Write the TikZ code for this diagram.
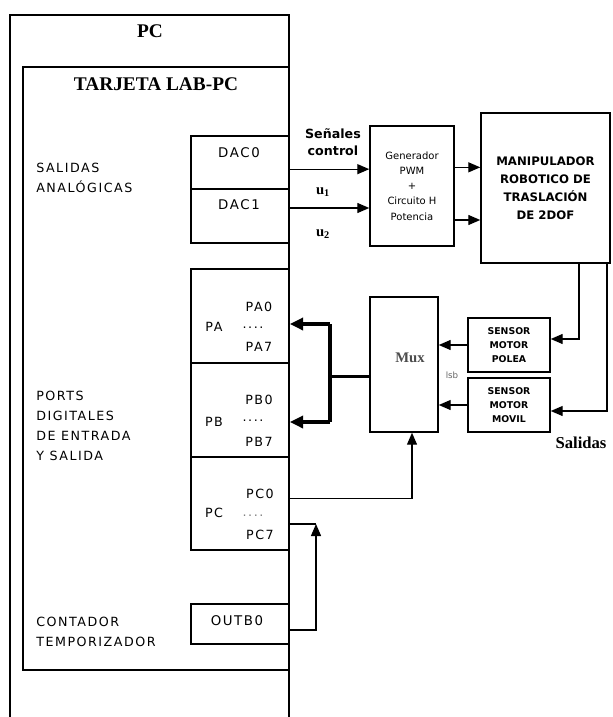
\documentclass[tikz,border=0pt]{standalone}
\usepackage{fontspec}
\setmainfont{Liberation Serif}
\setsansfont{DejaVu Sans}
\newfontfamily\labfont[LetterSpace=12]{DejaVu Sans}
\usetikzlibrary{arrows.meta,positioning,calc}

\begin{document}
\begin{tikzpicture}[x=0.75pt,y=-0.75pt,
    box/.style={draw, line width=1.1pt, inner sep=0pt},
    arr/.style={line width=1pt, -{Triangle[length=9pt,width=7.5pt]}},
    bus/.style={line width=2.6pt},
    side/.style={font=\labfont\fontsize{9.5}{15}\selectfont, align=left, anchor=west, inner sep=0pt},
    port/.style={font=\labfont\fontsize{9.5}{10}\selectfont, inner sep=0pt},
    title/.style={font=\bfseries\fontsize{14.5}{16}\selectfont}]
  \useasboundingbox (0,0) rectangle (612,717);

  % PC y tarjeta
  \draw[line width=1.1pt] (10,717) -- (10,15) -- (289,15) -- (289,717);
  \node[box, minimum width=199.5pt, minimum height=452.25pt] (tarjeta) at (156,368.5) {};
  \node[title] (pc) at (150,31) {PC};
  \node[title] (lab) at (156,84) {TARJETA LAB-PC};

  % salidas analogicas
  \node[box, minimum width=73.5pt, minimum height=39.75pt] (dac0) at (240,162.5) {};
  \node[box, minimum width=73.5pt, minimum height=40.5pt] (dac1) at (240,216) {};
  \node[port, font=\labfont\fontsize{10}{10}\selectfont] at (239,153) {DAC0};
  \node[port, font=\labfont\fontsize{10}{10}\selectfont] at (239,205) {DAC1};
  \node[side] (salan) at (36,178) {SALIDAS\\ANALÓGICAS};

  % ports digitales
  \node[box, minimum width=73.5pt, minimum height=70.5pt] (pa) at (240,316) {};
  \node[box, minimum width=73.5pt, minimum height=70.5pt] (pb) at (240,410) {};
  \node[box, minimum width=73.5pt, minimum height=69.75pt] (pcport) at (240,503.5) {};
  \node[port] at (214,327) {PA};
  \node[port] at (259,307) {PA0};
  \node[port] at (253,328) {....};
  \node[port] at (259,347) {PA7};
  \node[port] at (214,422) {PB};
  \node[port] at (259,400) {PB0};
  \node[port] at (253,421) {....};
  \node[port] at (259,442) {PB7};
  \node[port] at (214,513) {PC};
  \node[port] at (260,494) {PC0};
  \node[port, gray] at (253,516) {....};
  \node[port] at (260,535) {PC7};
  \node[side] (ports) at (36,426) {PORTS\\DIGITALES\\DE ENTRADA\\Y SALIDA};

  % contador
  \node[box, minimum width=73.5pt, minimum height=30pt] (outb) at (240,624) {};
  \node[port, font=\labfont\fontsize{10}{10}\selectfont] at (237,621) {OUTB0};
  \node[side] (cont) at (36,632) {CONTADOR\\TEMPORIZADOR};

  % generador y manipulador
  \node[box, minimum width=63pt, minimum height=90pt, align=center,
    font=\sffamily\fontsize{7.5}{11.4}\selectfont] (gen) at (412,186)
    {Generador\\PWM\\+\\Circuito H\\Potencia};
  \node[box, minimum width=96.75pt, minimum height=112.5pt, align=center,
    font=\sffamily\bfseries\fontsize{8.8}{13.5}\selectfont] (manip) at (545.5,188)
    {MANIPULADOR\\ROBOTICO DE\\TRASLACIÓN\\DE 2DOF};
  \node[font=\sffamily\bfseries\fontsize{9.5}{13}\selectfont, align=center] (senal) at (333,142) {Señales\\control};
  \node[font=\bfseries\fontsize{11}{12}\selectfont] (u1) at (323,192) {u\textsubscript{1}};
  \node[font=\bfseries\fontsize{11}{12}\selectfont] (u2) at (323,234) {u\textsubscript{2}};

  % mux y sensores
  \node[box, minimum width=51pt, minimum height=101.25pt] (mux) at (404,364.5) {};
  \node[font=\bfseries\fontsize{11}{12}\selectfont, black!70] at (410,358) {Mux};
  \node[box, minimum width=61.5pt, minimum height=40.5pt, align=center,
    font=\sffamily\bfseries\fontsize{7}{10.5}\selectfont] (sen1) at (509,345)
    {SENSOR\\MOTOR\\POLEA};
  \node[box, minimum width=61.5pt, minimum height=40.5pt, align=center,
    font=\sffamily\bfseries\fontsize{7}{10.5}\selectfont] (sen2) at (509,405)
    {SENSOR\\MOTOR\\MOVIL};
  \node[font=\sffamily\fontsize{6.5}{7}\selectfont, black!60] (lsb) at (452,375) {lsb};
  \node[font=\bfseries\fontsize{12.5}{13}\selectfont] (salidas) at (581,443) {Salidas};

  % conexiones
  \draw[arr] ([yshift=-5pt]dac0.east) -- ([yshift=-5pt]dac0.east -| gen.west);
  \draw[arr] ([yshift=6pt]dac1.east) -- ([yshift=6pt]dac1.east -| gen.west);
  \draw[arr] ([yshift=14pt]gen.east) -- ([yshift=14pt]gen.east -| manip.west);
  \draw[arr] ([yshift=-25.5pt]gen.east) -- ([yshift=-25.5pt]gen.east -| manip.west);
  \draw[arr] ([xshift=25pt]manip.south) |- ([yshift=4.5pt]sen1.east);
  \draw[arr] ([xshift=46pt]manip.south) |- ([yshift=-4.5pt]sen2.east);
  \draw[arr] (sen1.west) -- (sen1.west -| mux.east);
  \draw[arr] (sen2.west) -- (sen2.west -| mux.east);

  % bus de datos
  \coordinate (busA) at (330,324);
  \coordinate (busB) at (330,422);
  \draw[bus] ([yshift=-9pt]mux.west) -- ([yshift=-9pt]mux.west -| busA);
  \draw[bus] (busA) -- (busB);
  \draw[bus, -{Triangle[length=10pt,width=9pt]}] (busA) -- (busA -| pa.east);
  \draw[bus, -{Triangle[length=10pt,width=9pt]}] (busB) -- (busB -| pb.east);

  \draw[arr] ([yshift=4pt]pcport.east) -| ([xshift=6pt]mux.south);
  \coordinate (join) at (316,524);
  \draw[arr] ([yshift=-4.5pt]outb.east) -| (join);
  \draw[line width=1pt] (join -| pcport.east) -- (join);
\end{tikzpicture}
\end{document}
